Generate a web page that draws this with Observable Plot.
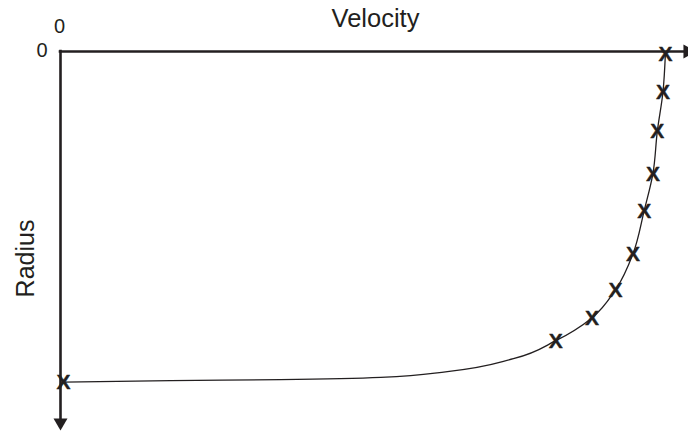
<!DOCTYPE html>
<html>
<head>
<meta charset="utf-8">
<script src="https://cdn.jsdelivr.net/npm/d3@7"></script>
<script src="https://cdn.jsdelivr.net/npm/@observablehq/plot@0.6"></script>
<style>
  body { margin: 0; background: #fff; }
</style>
</head>
<body>
<div id="chart"></div>
<script>
// Measured sample points (marked with X)
const velocity = [97.1, 96.7, 95.8, 95.1, 93.7, 91.9, 89.1, 85.3, 79.5, 0.5];
const radius   = [0.5, 11.1, 21.7, 33.2, 43.3, 55.1, 64.9, 72.6, 78.8, 90.1];

// Fitted profile curve
const curveVelocity = [97.1, 96.7, 95.8, 95.1, 93.7, 91.9, 89.1, 85.3, 79.5, 72.7, 62.1, 51.4, 35.3, 17.7, 0.5];
const curveRadius   = [0.5, 11.1, 21.7, 33.2, 43.3, 55.1, 64.9, 72.6, 78.8, 83.7, 87.2, 88.8, 89.4, 89.7, 90.1];

const axisOrigin = [0];
const xTitle = ["Velocity"];
const yTitle = ["Radius"];
const markerLabel = "X";

const points = velocity.map((v, i) => ({v, r: radius[i]}));
const curve = curveVelocity.map((v, i) => ({v, r: curveRadius[i]}));

const ink = "#231f20";

const chart = Plot.plot({
  width: 688,
  height: 432,
  marginTop: 51,
  marginLeft: 60,
  marginRight: 5,
  marginBottom: 14,
  style: {fontFamily: "'Liberation Sans', Arial, sans-serif", color: ink, background: "#fff", overflow: "visible"},
  x: {domain: [0, 100], axis: null},
  y: {domain: [0, 100], reverse: true, axis: null},
  marks: [
    // origin tick labels, positioned by the scales
    Plot.text(axisOrigin, {x: d => d, text: d => String(d), frameAnchor: "top", textAnchor: "middle", lineAnchor: "bottom", dx: -1, dy: -19, fontSize: 20, fill: ink}),
    Plot.text(axisOrigin, {y: d => d, text: d => String(d), frameAnchor: "left", textAnchor: "end", lineAnchor: "middle", dx: -13, dy: -0.5, fontSize: 20, fill: ink}),
    Plot.line(curve, {x: "v", y: "r", curve: "monotone-y", stroke: ink, strokeWidth: 1.3}),
    Plot.ruleY(axisOrigin, {stroke: ink, strokeWidth: 2.6, strokeLinecap: "square"}),
    Plot.ruleX(axisOrigin, {stroke: ink, strokeWidth: 2.6, strokeLinecap: "square"}),
    Plot.dot([0], {frameAnchor: "top-right", symbol: "triangle", r: 5.2, rotate: 90, dx: 4, fill: ink, stroke: null}),
    Plot.dot([0], {frameAnchor: "bottom-left", symbol: "triangle", r: 5.2, rotate: 180, dy: 4, fill: ink, stroke: null}),
    Plot.text(points, {x: "v", y: "r", text: () => markerLabel, fontSize: 21, fontWeight: "bold", fill: ink, stroke: ink, strokeWidth: 0.4, lineAnchor: "middle", dy: 0.5}),
    Plot.text(xTitle, {text: d => d, frameAnchor: "top", textAnchor: "middle", dx: 3.5, dy: -24.3, lineAnchor: "bottom", fontSize: 25.5, fill: ink}),
    Plot.text(yTitle, {text: d => d, frameAnchor: "left", textAnchor: "middle", rotate: -90, dx: -27, dy: 23.5, lineAnchor: "bottom", fontSize: 25, fill: ink})
  ]
});
document.getElementById("chart").appendChild(chart);
</script>
</body>
</html>
